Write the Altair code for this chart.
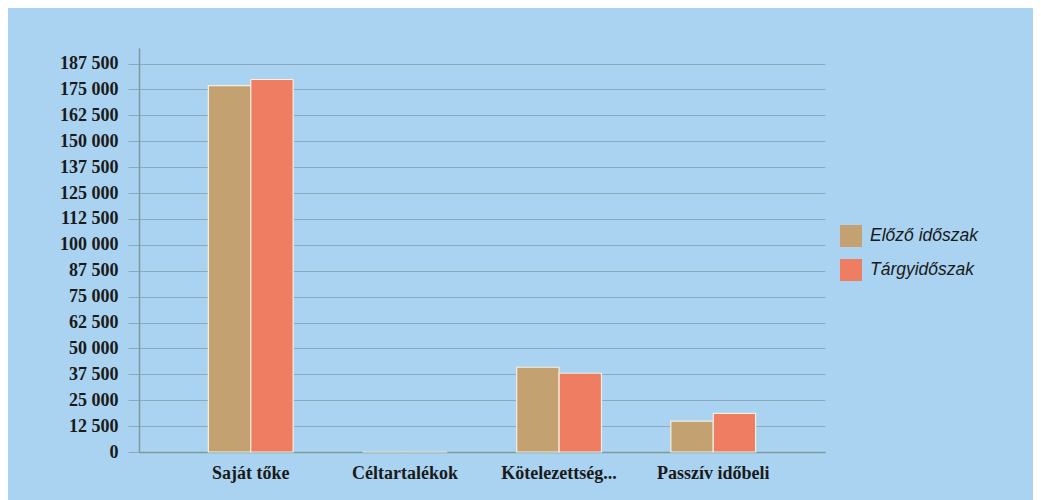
import altair as alt
import pandas as pd

categories = ["Saját tőke", "Céltartalékok", "Kötelezettség...", "Passzív időbeli"]
series_names = ["Előző időszak", "Tárgyidőszak"]
prev_values = [176800, 0, 40900, 14900]
curr_values = [179800, 0, 38000, 18600]
y_ticks = [i * 12500 for i in range(16)]

rows = []
for c, p, t in zip(categories, prev_values, curr_values):
    rows.append({"cat": c, "series": series_names[0], "value": p})
    rows.append({"cat": c, "series": series_names[1], "value": t})
df = pd.DataFrame(rows)

bars = alt.Chart(df).mark_bar(stroke="#f4efe0", strokeWidth=1.2).encode(
    x=alt.X("cat:N", sort=categories, title=None,
            scale=alt.Scale(paddingInner=0.45, paddingOuter=0.45),
            axis=alt.Axis(labelAngle=0, labelFont="Liberation Serif", labelFontWeight="bold",
                          labelFontSize=18, labelColor="#1a1a1a", labelPadding=12,
                          ticks=False, domainColor="#7f9a9a", domainWidth=1.5)),
    xOffset=alt.XOffset("series:N", sort=series_names, scale=alt.Scale(paddingInner=0, paddingOuter=0)),
    y=alt.Y("value:Q", title=None,
            scale=alt.Scale(domain=[0, 195000], nice=False),
            axis=alt.Axis(values=y_ticks, labelExpr="replace(format(datum.value, ','), ',', ' ')",
                          labelFont="Liberation Serif", labelFontWeight="bold", labelFontSize=18,
                          labelColor="#1a1a1a", labelPadding=10, tickSize=11, tickColor="#8aaac0",
                          domainColor="#7f9a9a", domainWidth=1.5, gridColor="#8aaac0",
                          gridWidth=1)),
    color=alt.Color("series:N", sort=series_names, title=None,
                    scale=alt.Scale(domain=series_names, range=["#c4a171", "#ee7d62"]),
                    legend=alt.Legend(orient="none", legendX=701, legendY=177, padding=0,
                                      symbolType="square", symbolSize=484, symbolStrokeWidth=0,
                                      labelFont="Liberation Sans", labelFontStyle="italic",
                                      labelFontSize=17.5, labelColor="#1a1a1a", labelOffset=8,
                                      rowPadding=12)),
)

chart = bars.properties(
    width=686, height=404,
    autosize=alt.AutoSizeParams(type="none"),
    padding={"left": 131, "top": 40, "right": 208, "bottom": 48},
    background="#a9d3f1",
).configure_view(stroke=None)

chart.save("out.html", embed_options={"renderer": "svg", "actions": False})
